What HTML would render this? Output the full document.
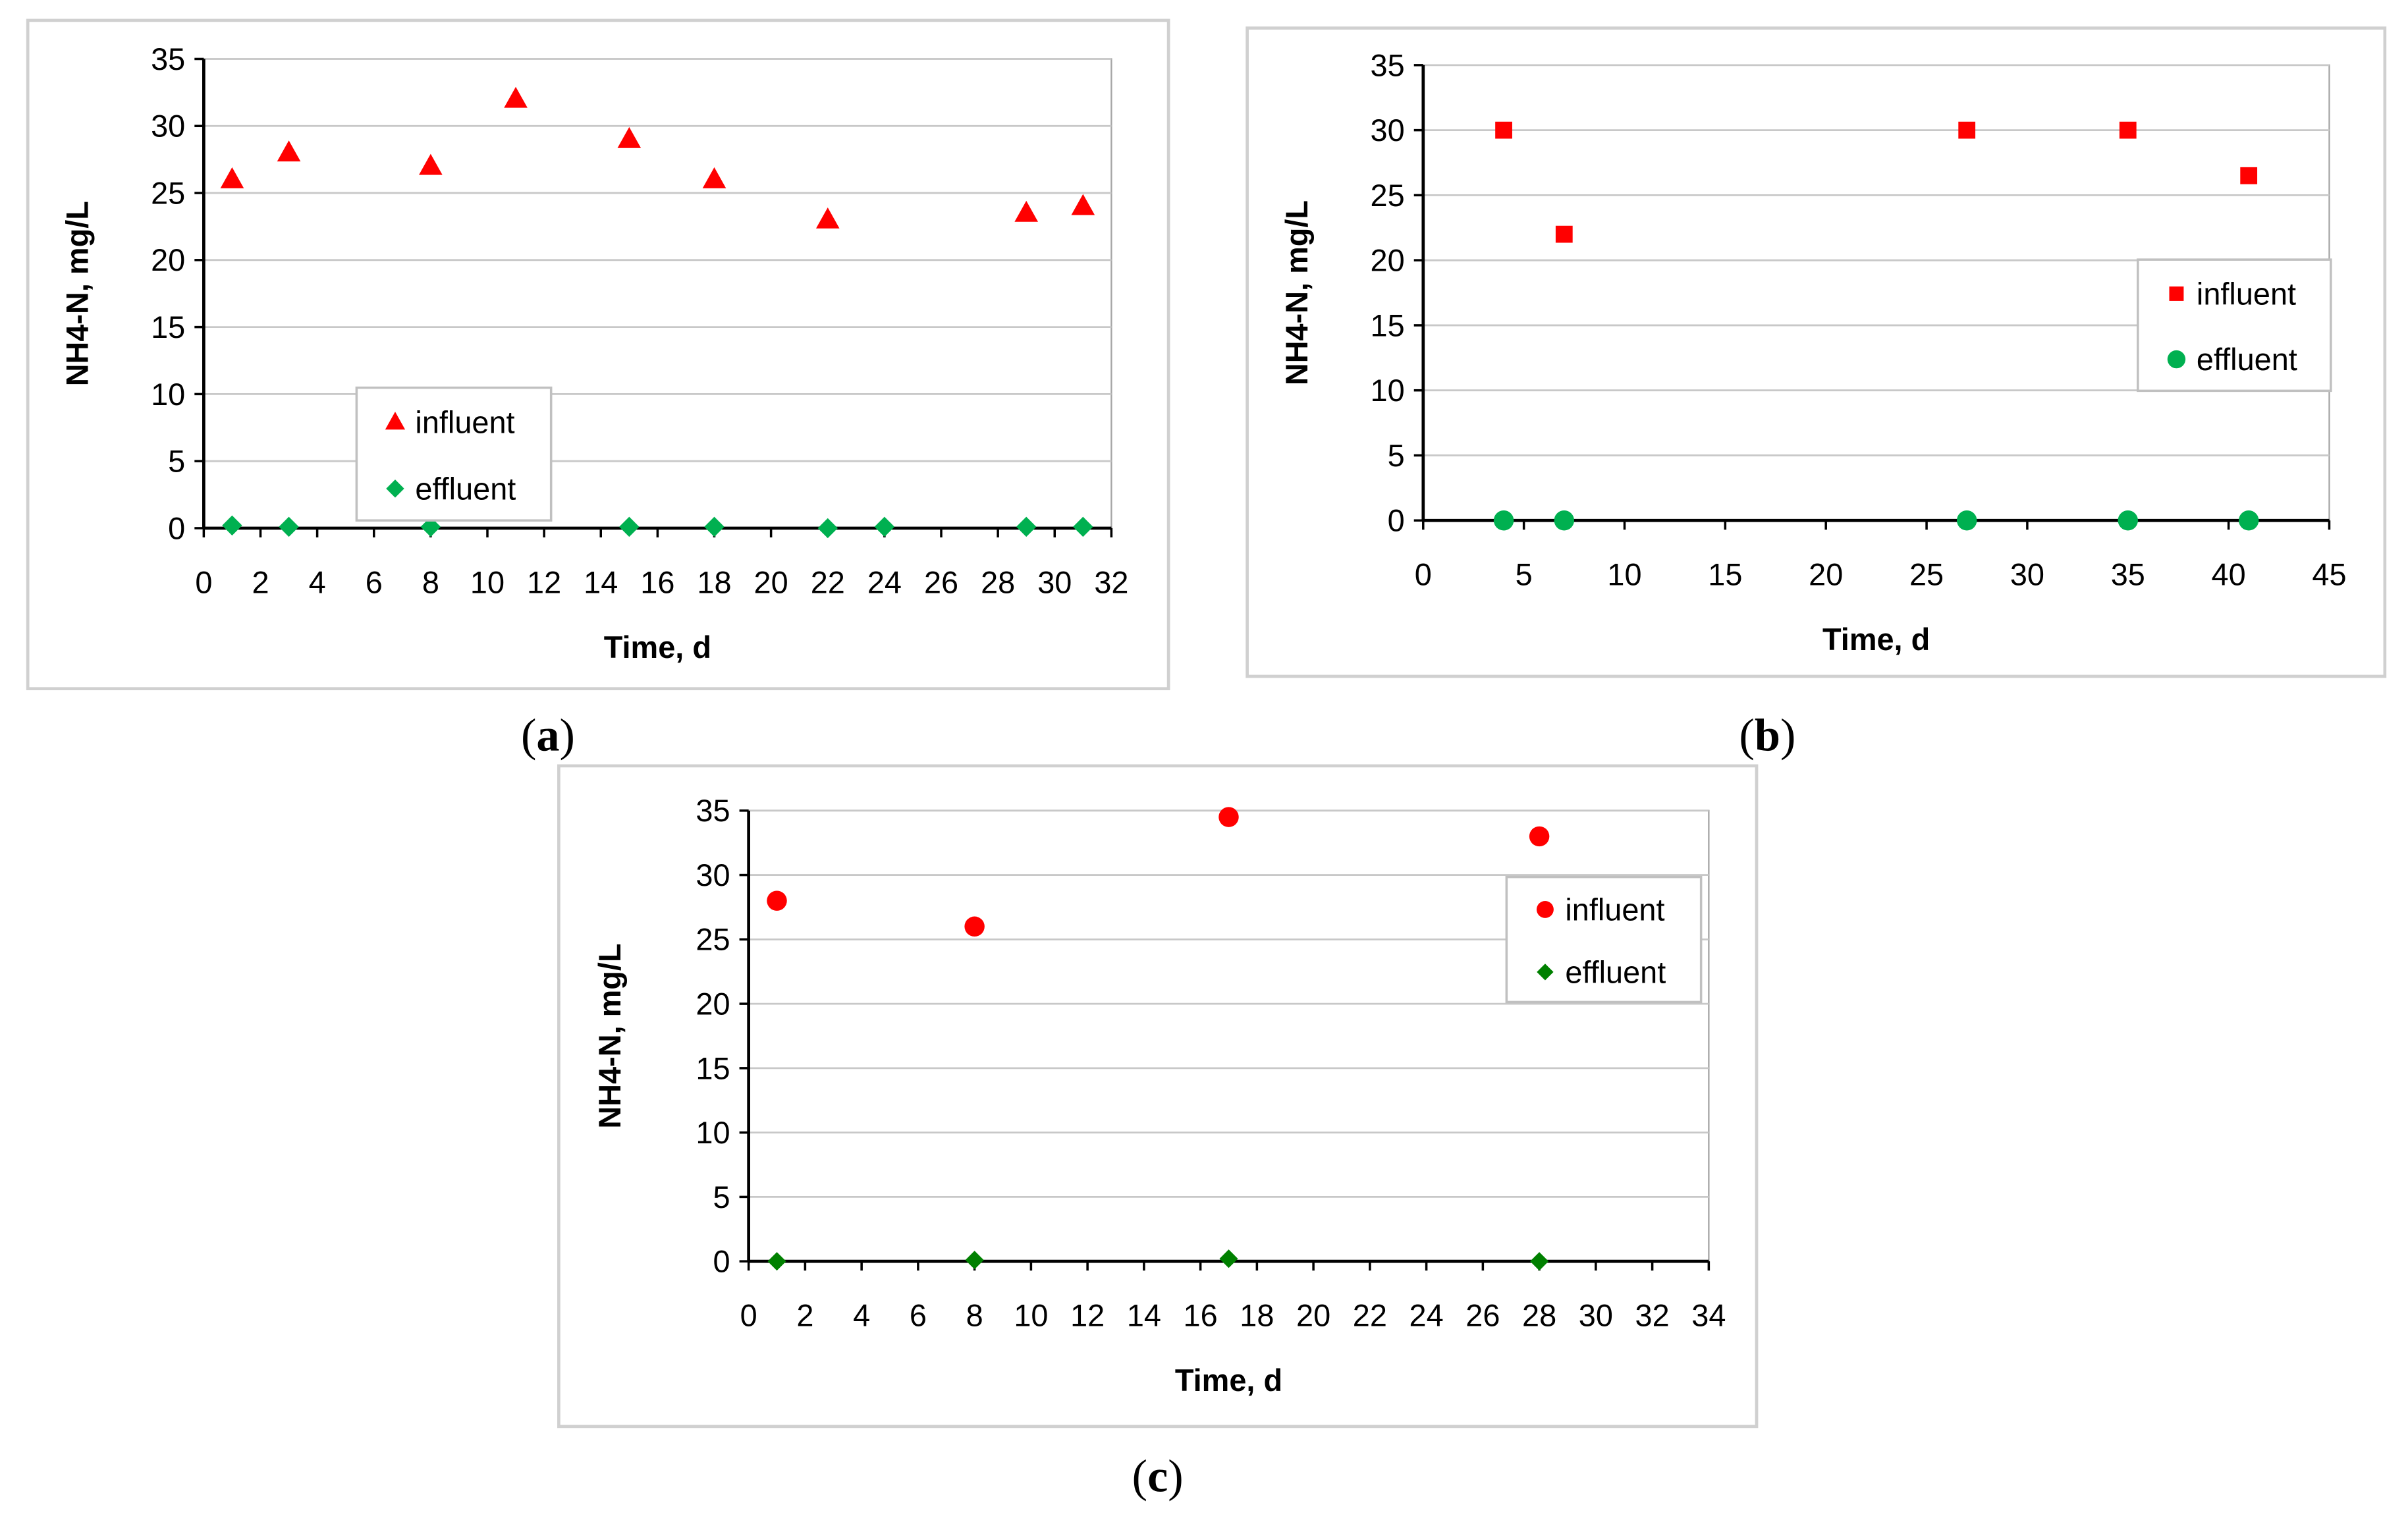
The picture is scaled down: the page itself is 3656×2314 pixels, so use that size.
<!DOCTYPE html>
<html><head><meta charset="utf-8"><style>
html,body{margin:0;padding:0;background:#fff}
svg{display:block}
text{font-family:"Liberation Sans",sans-serif;fill:#000}
</style></head><body>
<svg id="fig" width="3656" height="2314" viewBox="0 0 1560 987" xmlns="http://www.w3.org/2000/svg">
<g id="root"></g>
</svg>
<script>
// Panel (a)
const aDaysInf=[1,3,8,11,15,18,22,29,31];
const aInf=[26,28,27,32,29,26,23,23.5,24];
const aDaysEff=[1,3,8,15,18,22,24,29,31];
const aEff=[0.2,0.1,0.1,0.1,0.1,0,0.1,0.1,0.1];
const aXTicks=[0,2,4,6,8,10,12,14,16,18,20,22,24,26,28,30,32];
// Panel (b)
const bDays=[4,7,27,35,41];
const bInf=[30,22,30,30,26.5];
const bEff=[0,0,0,0,0];
const bXTicks=[0,5,10,15,20,25,30,35,40,45];
// Panel (c)
const cDays=[1,8,17,28];
const cInf=[28,26,34.5,33];
const cEff=[0,0.1,0.2,0];
const cXTicks=[0,2,4,6,8,10,12,14,16,18,20,22,24,26,28,30,32,34];
const yTicks=[0,5,10,15,20,25,30,35];

const NS="http://www.w3.org/2000/svg";
const root=document.getElementById('root');
function mk(tag,attrs,parent,txt){const e=document.createElementNS(NS,tag);for(const k in attrs)e.setAttribute(k,attrs[k]);if(txt!==undefined)e.textContent=txt;(parent||root).appendChild(e);return e;}

function marker(g,shape,cx,cy,color,s){
  let e;
  if(shape==='tri') e=mk('polygon',{points:`${cx},${cy-s} ${cx+s*0.95},${cy+s*0.7} ${cx-s*0.95},${cy+s*0.7}`,fill:color},g);
  else if(shape==='dia') e=mk('polygon',{points:`${cx},${cy-s} ${cx+s},${cy} ${cx},${cy+s} ${cx-s},${cy}`,fill:color},g);
  else if(shape==='sq') e=mk('rect',{x:cx-s,y:cy-s,width:2*s,height:2*s,fill:color},g);
  else e=mk('circle',{cx:cx,cy:cy,r:s,fill:color},g);
  return e;
}

function panel(p){
  const g=mk('g',{});
  
  
  const fr=mk('rect',{x:p.fx,y:p.fy,width:p.fw,height:p.fh,fill:'#fff',stroke:'#d0d0d0','stroke-width':2},g);
  
  const X=v=>p.x0+(v-p.xmin)/(p.xmax-p.xmin)*(p.x1-p.x0);
  const Y=v=>p.y0-(v/35)*(p.y0-p.y1);
  const pa=mk('rect',{x:p.x0,y:p.y1,width:p.x1-p.x0,height:p.y0-p.y1,fill:'none',stroke:'#a6a6a6','stroke-width':1},g);
  
  yTicks.forEach(t=>{
    if(t>0){const gl=mk('line',{x1:p.x0,x2:p.x1,y1:Y(t),y2:Y(t),stroke:'#c8c8c8','stroke-width':1.2},g);
      }
    mk('line',{x1:p.x0-6,x2:p.x0,y1:Y(t),y2:Y(t),stroke:'#000','stroke-width':1.5},g);
    const tl=mk('text',{x:p.x0-12,y:Y(t)+7,'text-anchor':'end','font-size':20},g,String(t));
    
  });
  p.xt.forEach(t=>{
    mk('line',{x1:X(t),x2:X(t),y1:p.y0,y2:p.y0+6,stroke:'#000','stroke-width':1.5},g);
    const tl=mk('text',{x:X(t),y:p.y0+42,'text-anchor':'middle','font-size':20},g,String(t));
    
  });
  const ya=mk('line',{x1:p.x0,x2:p.x0,y1:p.y1,y2:p.y0,stroke:'#000','stroke-width':2},g);
  
  const xa=mk('line',{x1:p.x0,x2:p.x1,y1:p.y0,y2:p.y0,stroke:'#000','stroke-width':2},g);
  
  const xt=mk('text',{x:(p.x0+p.x1)/2,y:p.y0+84,'text-anchor':'middle','font-size':20,'font-weight':'bold'},g,'Time, d');
  
  const yc=(p.y0+p.y1)/2;
  const yt=mk('text',{x:p.ytx,y:yc,'text-anchor':'middle','font-size':20,'font-weight':'bold',transform:`rotate(-90 ${p.ytx} ${yc})`},g,'NH4-N, mg/L');
  
  p.infX.forEach((d,i)=>{const m=marker(g,p.infShape,X(d),Y(p.inf[i]),'#ff0000',p.infS);
    });
  p.effX.forEach((d,i)=>{const m=marker(g,p.effShape,X(d),Y(p.eff[i]),p.effColor,p.effS);
    });
  const lg=mk('g',{},g);
  
  mk('rect',{x:p.lx,y:p.ly,width:p.lw,height:p.lh,fill:'#fff',stroke:'#c0c0c0','stroke-width':1.5},lg);
  const r1=p.ly+p.lh*0.26, r2=p.ly+p.lh*0.76;
  marker(lg,p.infShape,p.lx+25,r1,'#ff0000',p.infS*0.85);
  marker(lg,p.effShape,p.lx+25,r2,p.effColor,p.effS*0.9);
  const t1=mk('text',{x:p.lx+38,y:r1+7,'font-size':20},lg,'influent');
  
  const t2=mk('text',{x:p.lx+38,y:r2+7,'font-size':20},lg,'effluent');
  
  const lab=mk('text',{x:p.labx,y:p.laby,'text-anchor':'middle','font-size':30,style:'font-family:"Liberation Serif",serif'},g);
  
  mk('tspan',{},lab,'(');mk('tspan',{'font-weight':'bold'},lab,p.letter);mk('tspan',{},lab,')');
}

panel({name:'panel-a',letter:'a',fx:18,fy:13,fw:739,fh:433,x0:132,x1:720,y0:342,y1:38,xmin:0,xmax:32,xt:aXTicks,ytx:57,
  infX:aDaysInf,inf:aInf,effX:aDaysEff,eff:aEff,infShape:'tri',infS:8,effShape:'dia',effS:6.5,effColor:'#00b050',
  lx:231,ly:251,lw:126,lh:86,labx:355,laby:486});
panel({name:'panel-b',letter:'b',fx:808,fy:18,fw:737,fh:420,x0:922,x1:1509,y0:337,y1:42,xmin:0,xmax:45,xt:bXTicks,ytx:847,
  infX:bDays,inf:bInf,effX:bDays,eff:bEff,infShape:'sq',infS:5.5,effShape:'circ',effS:6.5,effColor:'#00b050',
  lx:1385,ly:168,lw:125,lh:85,labx:1145,laby:486});
panel({name:'panel-c',letter:'c',fx:362,fy:496,fw:776,fh:428,x0:485,x1:1107,y0:817,y1:525,xmin:0,xmax:34,xt:cXTicks,ytx:402,
  infX:cDays,inf:cInf,effX:cDays,eff:cEff,infShape:'circ',infS:6.5,effShape:'dia',effS:6,effColor:'#008000',
  lx:976,ly:568,lw:126,lh:81,labx:750,laby:966});
</script>
</body></html>
